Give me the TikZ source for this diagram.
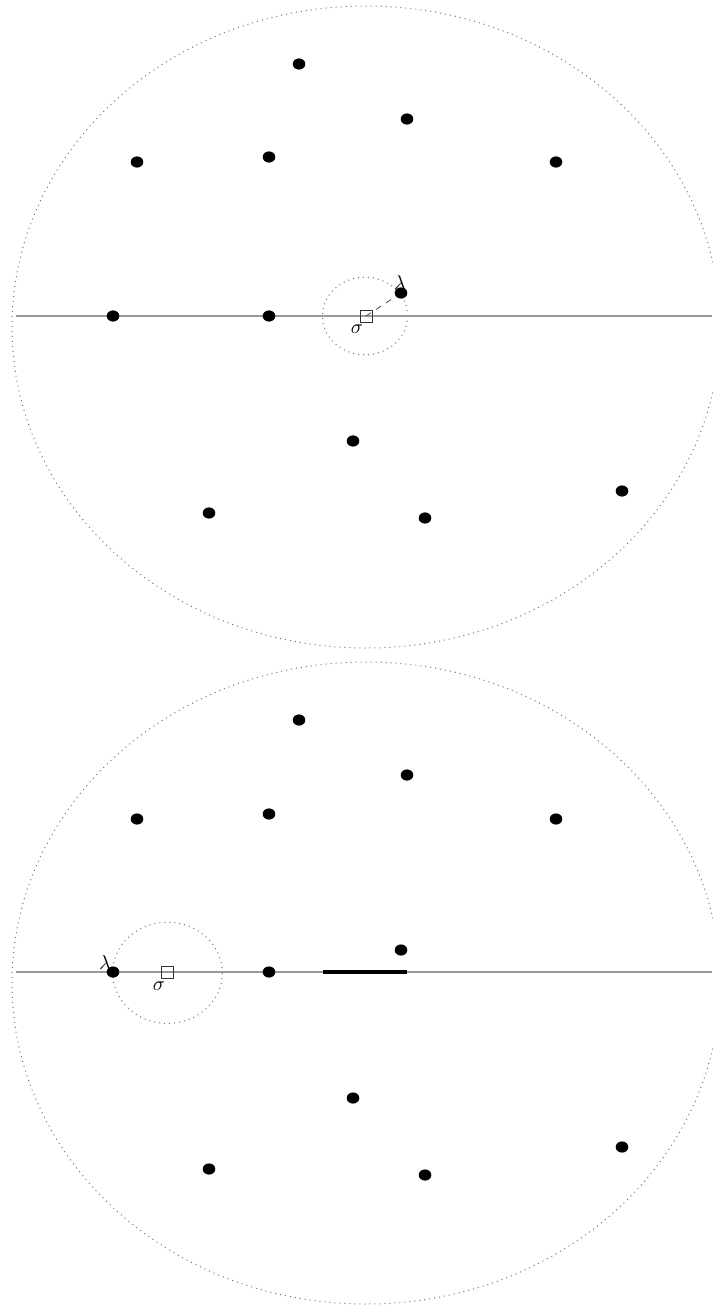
\documentclass[tikz,border=0pt]{standalone}
\usetikzlibrary{shapes.geometric}
\begin{document}
\begin{tikzpicture}[x=0.5pt,y=-0.5pt,
  dot/.style={shape=ellipse,fill=black,inner sep=0pt,minimum width=6.3pt,minimum height=5.6pt},
  sq/.style={draw=black!80,line width=0.4pt,inner sep=0pt,minimum size=6pt},
  bigc/.style={draw=black!55,dotted,line width=0.5pt},
  hline/.style={draw=black!40,line width=0.9pt},
  thick seg/.style={draw=black,line width=2pt},
  lab/.style={inner sep=0pt,font=\normalsize}]
\useasboundingbox (0,0) rectangle (712,1306);
% ---------- top panel ----------
\draw[bigc] (366,327) ellipse [x radius=177pt,y radius=160.5pt];
\draw[bigc] (365,316) ellipse [x radius=21.3pt,y radius=19.4pt];
\coordinate (L1) at (16,316);
\coordinate (R1) at (712,316);
\draw[hline] (L1) -- (R1);
\node[dot] (a1) at (299,64) {};
\node[dot] (a2) at (407,119) {};
\node[dot] (a3) at (137,162) {};
\node[dot] (a4) at (269,157) {};
\node[dot] (a5) at (556,162) {};
\node[dot] (a6) at (113,316) {};
\node[dot] (a7) at (269,316) {};
\node[dot] (a8) at (401,293) {};
\node[dot] (a9) at (353,441) {};
\node[dot] (a10) at (209,513) {};
\node[dot] (a11) at (425,518) {};
\node[dot] (a12) at (622,491) {};
\node[sq] (s1) at (366,316) {};
\draw[dashed,black!70,line width=0.4pt] (s1.center) -- (a8);
\node[lab] (sig1) at (357,329) {$\sigma$};
\node[lab] (lam1) at (400,283) {$\lambda$};
% ---------- bottom panel ----------
\draw[bigc] (366,983) ellipse [x radius=177pt,y radius=160.5pt];
\draw[bigc] (167.5,972.8) ellipse [x radius=27.4pt,y radius=25.3pt];
\coordinate (L2) at (16,972);
\coordinate (R2) at (712,972);
\draw[hline] (L2) -- (R2);
\coordinate (T1) at (323,972);
\coordinate (T2) at (407,972);
\draw[thick seg] (T1) -- (T2);
\node[dot] (b1) at (299,720) {};
\node[dot] (b2) at (407,775) {};
\node[dot] (b3) at (137,819) {};
\node[dot] (b4) at (269,814) {};
\node[dot] (b5) at (556,819) {};
\node[dot] (b6) at (113,972) {};
\node[dot] (b7) at (269,972) {};
\node[dot] (b8) at (401,950) {};
\node[dot] (b9) at (353,1098) {};
\node[dot] (b10) at (209,1169) {};
\node[dot] (b11) at (425,1175) {};
\node[dot] (b12) at (622,1147) {};
\node[sq] (s2) at (167,972) {};
\node[lab] (sig2) at (159,986) {$\sigma$};
\node[lab] (lam2) at (105,963) {$\lambda$};
\end{tikzpicture}
\end{document}
